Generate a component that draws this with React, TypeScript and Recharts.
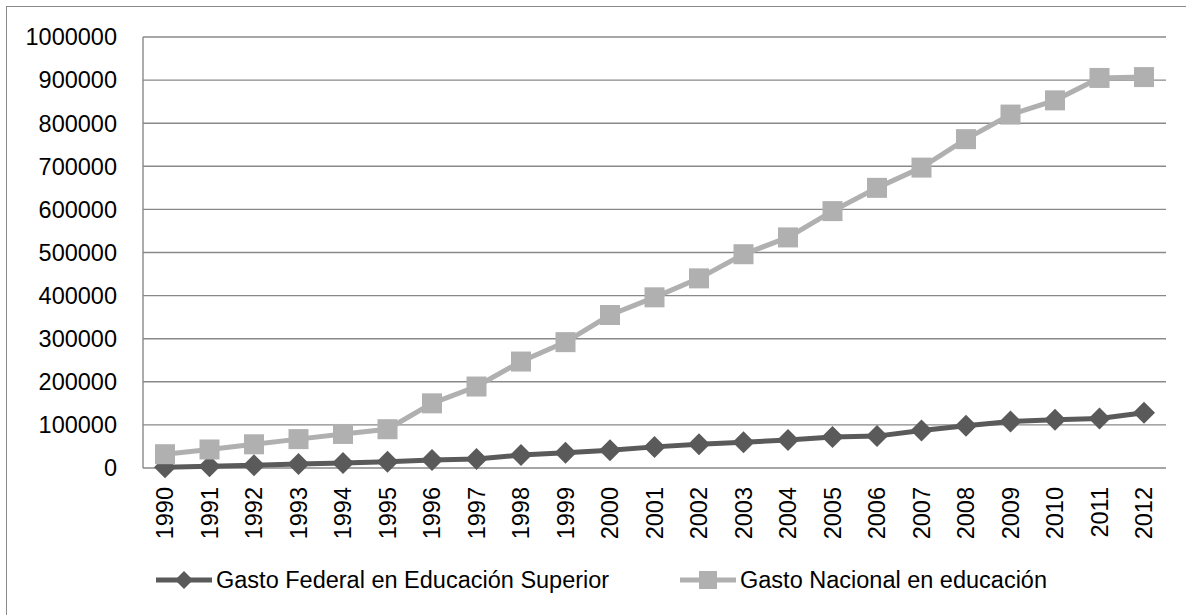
import React from 'react';
import { LineChart, Line, XAxis, YAxis, CartesianGrid, Legend } from 'recharts';

const years = ['1990','1991','1992','1993','1994','1995','1996','1997','1998','1999','2000','2001','2002','2003','2004','2005','2006','2007','2008','2009','2010','2011','2012'];
const federal = [2000, 4000, 6500, 9000, 11500, 14500, 18500, 21000, 30000, 35500, 41000, 49000, 55000, 60000, 65000, 72000, 74000, 87000, 98000, 108000, 112000, 115000, 128000];
const nacional = [32000, 43000, 55000, 67000, 79000, 90000, 150000, 189000, 247000, 292000, 355000, 396000, 440000, 496000, 535000, 596000, 650000, 697000, 763000, 820000, 853000, 905000, 907000];
const yTicks = [0, 100000, 200000, 300000, 400000, 500000, 600000, 700000, 800000, 900000, 1000000];
const seriesNames = ['Gasto Federal en Educación Superior', 'Gasto Nacional en educación'];

const data = years.map((y, i) => ({ year: y, federal: federal[i], nacional: nacional[i] }));

const FONT = '"Liberation Sans", Arial, sans-serif';
const FS = 23.5;
const DARK = '#5a5a5a';
const LIGHT = '#b0b0b0';
const GRID = '#898989';

const Diamond = (props: any) => {
  const { cx, cy, index } = props;
  if (cx == null || cy == null) return <g key={index} />;
  const r = 11;
  return <polygon key={index} points={`${cx},${cy - r} ${cx + r},${cy} ${cx},${cy + r} ${cx - r},${cy}`} fill={DARK} />;
};

const Square = (props: any) => {
  const { cx, cy, index } = props;
  if (cx == null || cy == null) return <g key={index} />;
  const s = 20;
  return <rect key={index} x={cx - s / 2} y={cy - s / 2} width={s} height={s} fill={LIGHT} />;
};

const XTick = (props: any) => {
  const { x, y, payload } = props;
  return (
    <text x={x} y={y} transform={`rotate(-90 ${x} ${y})`} textAnchor="end" dominantBaseline="central"
      fontFamily={FONT} fontSize={FS} fill="#000">{payload.value}</text>
  );
};

const LegendContent = () => {
  const items = [
    { name: seriesNames[0], color: DARK, shape: 'diamond', left: 156 },
    { name: seriesNames[1], color: LIGHT, shape: 'square', left: 680 },
  ];
  return (
    <div style={{ position: 'relative', width: 1186, height: 30 }}>
      {items.map((it) => (
        <div key={it.name} style={{ position: 'absolute', left: it.left, top: 0, height: 30, display: 'flex', alignItems: 'center' }}>
          <svg width={56} height={30} style={{ display: 'block' }}>
            <line x1={0} y1={15} x2={56} y2={15} stroke={it.color} strokeWidth={5} />
            {it.shape === 'diamond'
              ? <polygon points="28,6 37,15 28,24 19,15" fill={it.color} />
              : <rect x={19} y={6} width={18} height={18} fill={it.color} />}
          </svg>
          <span style={{ fontFamily: FONT, fontSize: FS, color: '#000', marginLeft: 4, whiteSpace: 'nowrap', lineHeight: '30px' }}>{it.name}</span>
        </div>
      ))}
    </div>
  );
};

export default function App() {
  return (
    <div style={{ position: 'absolute', left: 0, top: 0, width: 1186, height: 615, overflow: 'hidden', background: '#fff' }}>
      <div style={{ position: 'absolute', left: 6, top: 6, width: 1300, height: 800, border: '1.5px solid #8a8a8a', boxSizing: 'border-box' }} />
      <div style={{ position: 'absolute', left: 0, top: 0 }}>
        <LineChart width={1186} height={615} data={data} margin={{ top: 37, right: 20, bottom: 77, left: 0 }}>
          <CartesianGrid vertical={false} stroke={GRID} strokeWidth={1.4} />
          <XAxis dataKey="year" interval={0} padding={{ left: 22, right: 22 }} axisLine={false} tickLine={false}
            tickSize={0} tickMargin={19} height={70} tick={<XTick />} />
          <YAxis domain={[0, 1000000]} ticks={yTicks} interval={0} width={143} axisLine={{ stroke: GRID, strokeWidth: 1.4 }}
            tickLine={false} tickSize={0} tickMargin={26}
            tick={{ fontFamily: FONT, fontSize: FS, fill: '#000' }} />
          <Legend layout="horizontal" verticalAlign="middle" align="center" content={<LegendContent />}
            wrapperStyle={{ top: 565, left: 0, width: 1186, height: 30 }} />
          <Line type="linear" dataKey="federal" name={seriesNames[0]} stroke={DARK} strokeWidth={5}
            dot={<Diamond />} activeDot={false} isAnimationActive={false} />
          <Line type="linear" dataKey="nacional" name={seriesNames[1]} stroke={LIGHT} strokeWidth={5}
            dot={<Square />} activeDot={false} isAnimationActive={false} />
        </LineChart>
      </div>
    </div>
  );
}
